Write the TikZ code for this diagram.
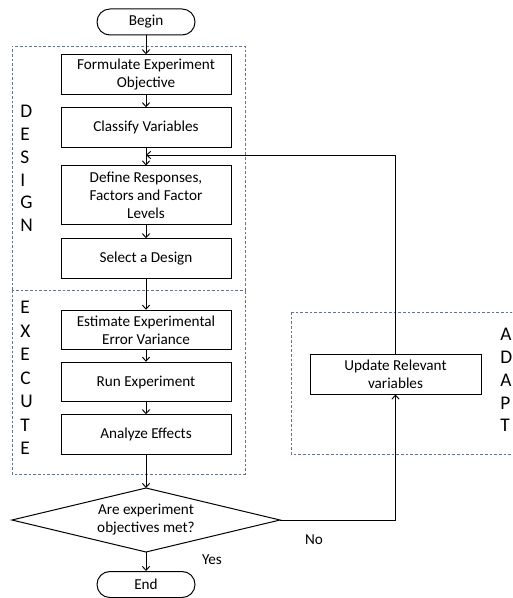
\documentclass[tikz,border=0pt]{standalone}
\usepackage{fontspec}
\setmainfont{Carlito}
\usetikzlibrary{shapes.geometric,arrows.meta}
\begin{document}
\begin{tikzpicture}[x=0.75pt,y=-0.75pt,
  every node/.style={font=\fontsize{11.4pt}{13.6pt}\selectfont, align=center, inner sep=0pt},
  proc/.style={draw, line width=0.75pt, minimum width=127.5pt, minimum height=29.6pt},
  term/.style={draw, line width=0.75pt, minimum width=73.5pt, minimum height=19.5pt, rounded corners=9.7pt},
  decide/.style={draw, line width=0.75pt, line join=miter},
  phase/.style={draw={rgb,255:red,105;green,115;blue,135}, dash pattern=on 2pt off 1.5pt, line width=0.6pt},
  letters/.style={anchor=north west, align=left},
  conn/.style={line width=0.7pt, -{Straight Barb[length=3pt,width=5.5pt]}},
  lbl/.style={font=\fontsize{11.4pt}{13.6pt}\selectfont}
]
\clip (0,0) rectangle (512,598);
\useasboundingbox (0,0) rectangle (512,598);
% phase boxes
\draw[phase] (12,290) -- (12,46) -- (245,46) -- (245,290) -- cycle;
\draw[phase] (12,290) -- (12,474) -- (245,474) -- (245,290);
\draw[phase] (291,312) rectangle (540,454);
% phase letters
\node[letters, font=\fontsize{14.5pt}{17.1pt}\selectfont] (dl) at (20,105) {D\\E\\S\\I\\G\\N};
\node[letters, font=\fontsize{14.5pt}{17.6pt}\selectfont] (el) at (20,301) {E\\X\\E\\C\\U\\T\\E};
\node[letters, font=\fontsize{14.5pt}{17.1pt}\selectfont] (al) at (500,328) {A\\D\\A\\P\\T};
% nodes
\node[term] (begin) at (146,22) {Begin};
\node[proc] (form) at (146,74.5) {Formulate Experiment\\Objective};
\node[proc] (class) at (146,127.5) {Classify Variables};
\node[proc, minimum height=44.25pt] (define) at (146,195.5) {Define Responses,\\Factors and Factor\\Levels};
\node[proc] (select) at (146,258.5) {Select a Design};
\node[proc] (est) at (146,330) {Estimate Experimental\\Error Variance};
\node[proc] (run) at (146,382) {Run Experiment};
\node[proc] (ana) at (146,434.5) {Analyze Effects};
% decision
\coordinate (dtop) at (146,488);
\coordinate (dright) at (280,520);
\coordinate (dbot) at (146,552);
\coordinate (dleft) at (12,520);
\draw[decide] (dtop) -- (dright) -- (dbot) -- (dleft) -- cycle;
\node (dec) at (146,520) {Are experiment\\objectives met?};
\node[term] (end) at (146,584.5) {End};
\node[proc, minimum width=128.25pt, minimum height=30pt] (upd) at (395.5,374) {Update Relevant\\variables};
\node[lbl] (yes) at (212,560) {Yes};
\node[lbl] (no) at (314,540) {No};
\coordinate (join) at (146,155);
% connectors
\draw[conn] (begin) -- (form);
\draw[conn] (form) -- (class);
\draw[conn] (class) -- (define);
\draw[conn] (define) -- (select);
\draw[conn] (select) -- (est);
\draw[conn] (est) -- (run);
\draw[conn] (run) -- (ana);
\draw[conn] (ana) -- (dtop);
\draw[conn] (dbot) -- (end);
\draw[conn] (dright) -| (upd.south);
\draw[conn] (upd.north) |- (join);
\end{tikzpicture}
\end{document}
